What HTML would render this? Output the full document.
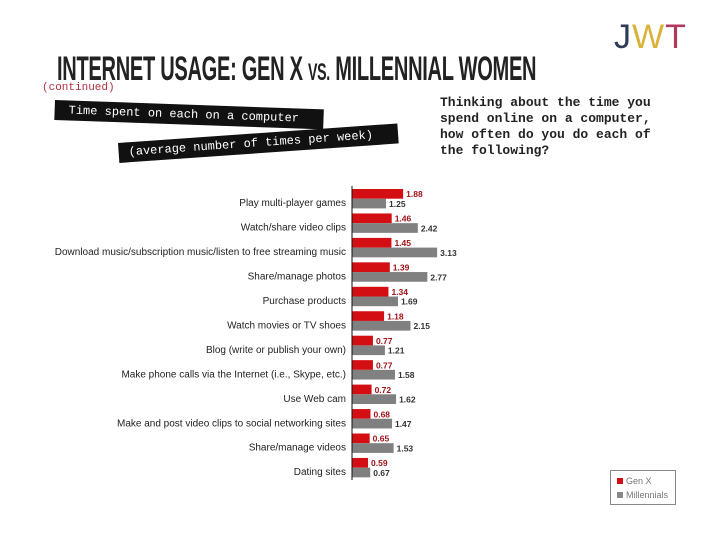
<!DOCTYPE html>
<html><head><meta charset="utf-8"><style>
body{margin:0;width:728px;height:546px;background:#fff;overflow:hidden;position:relative;font-family:"Liberation Sans",sans-serif}
.abs{position:absolute}
.tape{position:absolute;background:#111;color:#fff;font-family:"Liberation Mono",monospace;white-space:nowrap}
</style></head><body>
<div class="abs" style="left:614px;top:18px;font-size:34px;letter-spacing:1px;font-family:'Liberation Sans',sans-serif;font-weight:300">
<span style="color:#2d3b55">J</span><span style="color:#d9b23a">W</span><span style="color:#b2385e">T</span></div>
<div class="abs" style="left:57px;top:50px;font-size:34px;font-weight:bold;color:#222;white-space:nowrap;transform:scaleX(0.59);transform-origin:0 0;letter-spacing:-0.5px">INTERNET USAGE: GEN X <span style="font-size:24px">VS.</span> MILLENNIAL WOMEN</div>
<div class="abs" style="left:42px;top:82px;font-size:11px;color:#b03040;font-family:'Liberation Mono',monospace">(continued)</div>
<div class="tape" style="left:55px;top:100px;width:255px;height:20px;font-size:12px;line-height:20px;padding-left:14px;transform:rotate(2deg);transform-origin:0 0">Time spent on each on a computer</div>
<div class="tape" style="left:118px;top:143px;width:270px;height:20px;font-size:12px;line-height:20px;padding-left:10px;transform:rotate(-4deg);transform-origin:0 0">(average number of times per week)</div>
<div class="abs" style="left:440px;top:95px;font-size:13px;line-height:16px;font-family:'Liberation Mono',monospace;color:#222;font-weight:bold">Thinking about the time you<br>spend online on a computer,<br>how often do you do each of<br>the following?</div>
<svg class="abs" style="left:0;top:0" width="728" height="546" id="chart"></svg>
<div class="abs" style="left:610px;top:470px;width:64px;height:33px;border:1px solid #888;font-size:9px;color:#777">
<div style="position:absolute;left:6px;top:5px"><span style="display:inline-block;width:6px;height:6px;background:#d40f14;margin-right:3px"></span>Gen X</div>
<div style="position:absolute;left:6px;top:19px"><span style="display:inline-block;width:6px;height:6px;background:#888;margin-right:3px"></span>Millennials</div>
</div>
<script>
const categories=["Play multi-player games","Watch/share video clips","Download music/subscription music/listen to free streaming music","Share/manage photos","Purchase products","Watch movies or TV shoes","Blog (write or publish your own)","Make phone calls via the Internet (i.e., Skype, etc.)","Use Web cam","Make and post video clips to social networking sites","Share/manage videos","Dating sites"];
const genX=[1.88,1.46,1.45,1.39,1.34,1.18,0.77,0.77,0.72,0.68,0.65,0.59];
const millennials=[1.25,2.42,3.13,2.77,1.69,2.15,1.21,1.58,1.62,1.47,1.53,0.67];
const NS="http://www.w3.org/2000/svg";
const svg=document.getElementById('chart');
const x0=352,scale=27.2,y0=189,pitch=24.45,bh=9.7;
const xs=v=>v*scale;
const ys=i=>y0+i*pitch;
function mk(t,a){const e=document.createElementNS(NS,t);for(const k in a)e.setAttribute(k,a[k]);svg.appendChild(e);return e;}
categories.forEach((c,i)=>{
  const y=ys(i);
  const r=mk('rect',{x:x0,y:y,width:xs(genX[i]),height:bh,fill:'#d40f14'});
  
  
  const g=mk('rect',{x:x0,y:y+bh,width:xs(millennials[i]),height:bh,fill:'#808080'});
  
  
  const t1=mk('text',{x:x0+xs(genX[i])+3,y:y+bh-1.5,'font-size':8.5,'font-weight':'bold',fill:'#a01218'});
  t1.textContent=genX[i].toFixed(2);
  
  
  const t2=mk('text',{x:x0+xs(millennials[i])+3,y:y+2*bh-1.5,'font-size':8.5,'font-weight':'bold',fill:'#333'});
  t2.textContent=millennials[i].toFixed(2);
  
  
  const l=mk('text',{x:346,y:y+bh+7.5,'font-size':10,'text-anchor':'end',fill:'#222'});
  l.textContent=c;
  
  
});
const ax=mk('line',{x1:x0,x2:x0,y1:186,y2:480,stroke:'#111','stroke-width':1});


</script>
</body></html>
